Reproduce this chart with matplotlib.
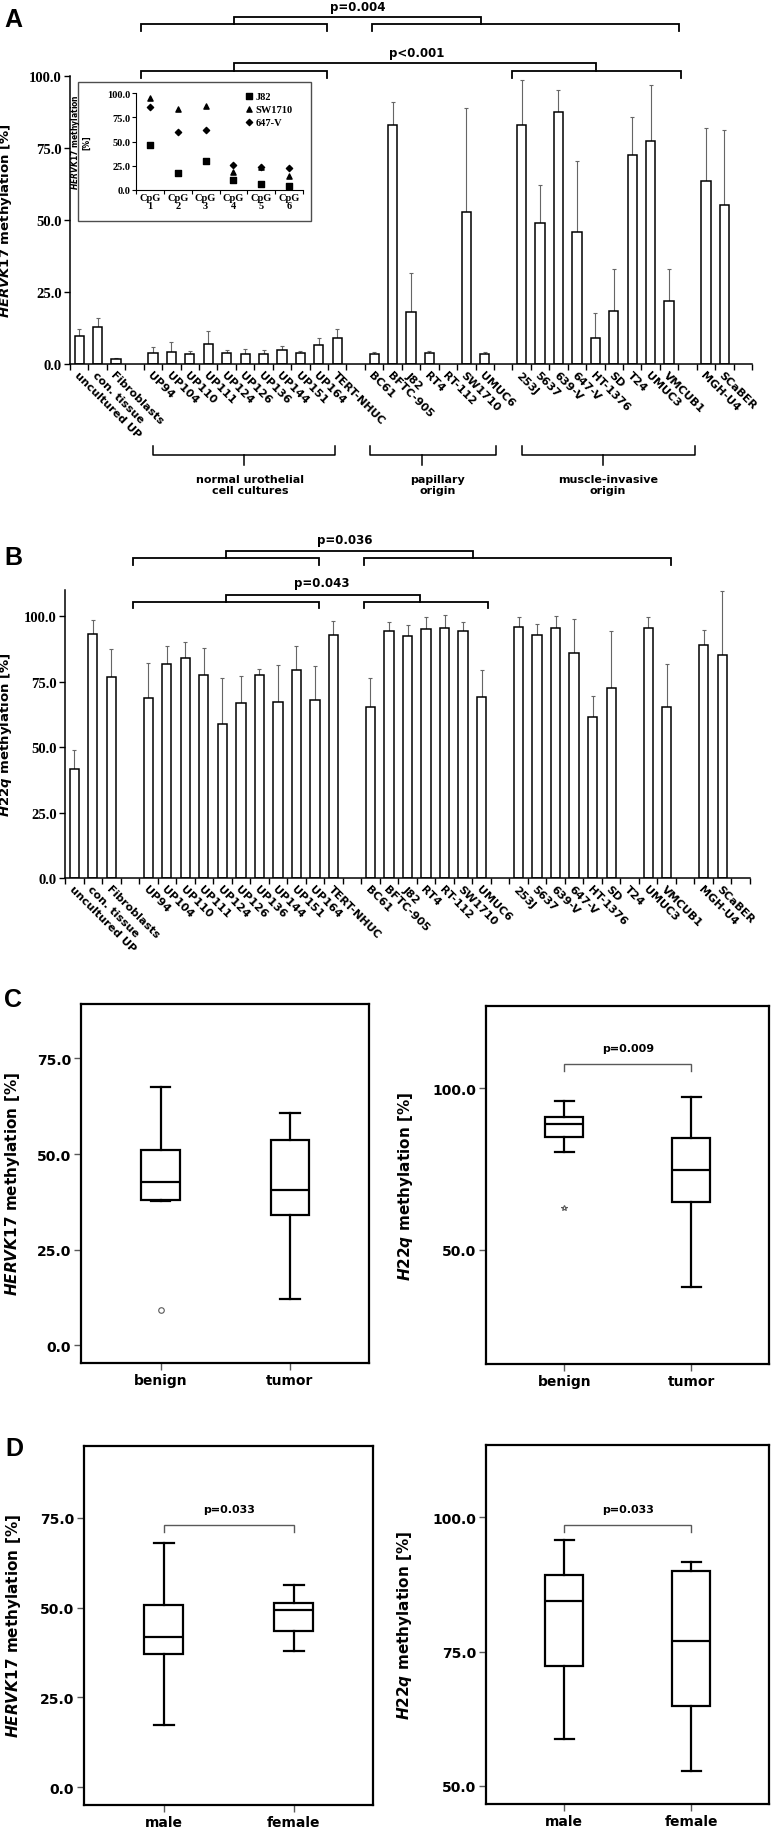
import matplotlib
matplotlib.use("Agg")
import matplotlib.pyplot as plt
from matplotlib.patches import Rectangle
import numpy as np

plt.rcParams['font.family'] = 'DejaVu Sans'
plt.rcParams['font.weight'] = 'bold'
plt.rcParams['mathtext.fontset'] = 'custom'
plt.rcParams['mathtext.it'] = 'DejaVu Sans:italic:bold'
plt.rcParams['mathtext.rm'] = 'DejaVu Sans:bold'
plt.rcParams['mathtext.bf'] = 'DejaVu Sans:bold'

W, H = 784, 1833

# ---- data: panel A / B (cell lines) ----
names = ["uncultured UP", "con. tissue", "Fibroblasts",
         "UP94", "UP104", "UP110", "UP111", "UP124", "UP126", "UP136", "UP144", "UP151", "UP164", "TERT-NHUC",
         "BC61", "BFTC-905", "J82", "RT4", "RT-112", "SW1710", "UMUC6",
         "253J", "5637", "639-V", "647-V", "HT-1376", "SD", "T24", "UMUC3", "VMCUB1",
         "MGH-U4", "SCaBER"]
group_sizes = [3, 11, 7, 9, 2]
nan = np.nan
hervk17_mean = [9.6, 12.8, 1.6, 3.7, 4.3, 3.5, 6.9, 3.9, 3.5, 3.5, 4.8, 3.7, 6.5, 8.9,
                3.5, 83.0, 18.0, 3.7, nan, 52.8, 3.5,
                83.0, 48.8, 87.6, 46.0, 9.2, 18.4, 72.4, 77.5, 22.0, 63.5, 55.3]
hervk17_sd = [2.5, 3.1, 0.6, 2.1, 3.4, 1.1, 4.5, 1.1, 1.7, 1.5, 1.4, 0.9, 2.6, 3.2,
              0.8, 8.0, 13.7, 0.9, nan, 36.2, 0.8,
              15.5, 13.2, 7.4, 24.5, 8.4, 14.6, 13.2, 19.4, 11.0, 18.5, 26.0]
h22q_mean = [41.7, 93.1, 76.9, 68.6, 81.8, 84.2, 77.5, 59.0, 66.7, 77.5, 67.4, 79.6, 68.0, 93.0,
             65.3, 94.3, 92.3, 95.1, 95.6, 94.2, 69.3,
             95.8, 93.0, 95.4, 86.1, 61.5, 72.6, nan, 95.4, 65.5, 89.0, 85.2]
h22q_sd = [7.0, 5.6, 10.7, 13.4, 6.8, 6.0, 10.5, 17.3, 10.3, 2.5, 13.9, 9.0, 12.8, 5.1,
           11.0, 3.6, 4.3, 4.4, 5.0, 3.4, 10.0,
           3.7, 4.0, 4.6, 12.9, 8.2, 21.7, nan, 4.1, 16.3, 5.7, 24.3]

# inset: single CpG sites
cpg_labels = ["CpG\n1", "CpG\n2", "CpG\n3", "CpG\n4", "CpG\n5", "CpG\n6"]
j82 = [46.4, 17.7, 30.0, 10.2, 6.1, 4.4]
sw1710 = [94.9, 83.3, 86.7, 18.4, 23.2, 14.0]
v647 = [85.7, 60.1, 61.4, 25.9, 23.5, 22.2]

# ---- data: panel C / D (box plots: whislo, q1, med, q3, whishi) ----
c_groups = ["benign", "tumor"]
c_hervk17 = [[37.6, 38.1, 42.6, 51.0, 67.4], [12.1, 34.2, 40.5, 53.7, 60.6]]
c_hervk17_out = [[9.3], []]
c_h22q = [[80.3, 84.8, 88.9, 91.1, 96.1], [38.4, 64.8, 74.7, 84.5, 97.4]]
c_h22q_out = [[62.9], []]
d_groups = ["male", "female"]
d_hervk17 = [[17.3, 37.1, 41.9, 50.8, 67.9], [37.8, 43.6, 49.3, 51.4, 56.4]]
d_h22q = [[58.8, 72.4, 84.5, 89.3, 95.8], [52.7, 64.9, 76.9, 90.1, 91.7]]


def slot_positions(sizes):
    out = []
    x = 0
    for n in sizes:
        out.extend(range(x, x + n))
        x += n + 1
    return np.array(out), x - 1


pos, n_slots = slot_positions(group_sizes)

fig = plt.figure(figsize=(W / 100, H / 100), dpi=100)


def box(l, t, r, b):
    return [l / W, 1 - b / H, (r - l) / W, (b - t) / H]


def bracket(ax, x0, x1, y, drop, color='black', lw=1.3):
    ax.plot([x0, x0, x1, x1], [y - drop, y, y, y - drop], color=color, lw=lw,
            clip_on=False, solid_joinstyle='miter')


def bar_panel(ax, mean, sd, top, ylabel):
    ax.bar(pos, mean, width=0.5, color='white', edgecolor='black', linewidth=1.1, zorder=2)
    ax.errorbar(pos, mean, yerr=[np.zeros(len(sd)), sd], fmt='none', ecolor='0.4',
                elinewidth=0.8, capsize=1.5, capthick=0.8, zorder=1)
    ax.set_xlim(-0.5, n_slots + 0.5)
    ax.set_ylim(0, top)
    for s in ['top', 'right']:
        ax.spines[s].set_visible(False)
    for s in ['left', 'bottom']:
        ax.spines[s].set_linewidth(1.1)
    ax.set_yticks([0, 25, 50, 75, 100])
    ax.set_yticklabels(["%.1f" % v for v in [0, 25, 50, 75, 100]],
                       fontfamily='Liberation Serif', fontweight='bold', fontsize=10.5)
    ax.set_xticks(np.arange(-0.5, n_slots + 1))
    ax.set_xticklabels([])
    ax.set_xticks(pos, minor=True)
    ax.set_xticklabels(names, minor=True, rotation=-45, ha='left', va='top',
                       rotation_mode='anchor', fontsize=8, fontweight='bold')
    ax.tick_params(axis='x', which='major', length=4, width=1, direction='out')
    ax.tick_params(axis='x', which='minor', length=0, pad=4)
    ax.tick_params(axis='y', length=4, width=1, direction='out', pad=2)
    ax.set_ylabel(ylabel, fontsize=9.5, fontweight='bold')


# ---- panel A ----
axA = fig.add_axes(box(70, 77, 752, 365))
bar_panel(axA, hervk17_mean, hervk17_sd, 100, r"$\mathit{HERVK17}$ methylation [%]")
axA.yaxis.set_label_coords(-0.082, 0.5)
bracket(axA, 3.36, 13.44, 118.1, 2.5)
bracket(axA, 15.9, 32.55, 118.1, 2.5)
bracket(axA, 8.4, 21.8, 120.6, 2.5)
axA.text(15.1, 124.3, "p=0.004", ha='center', va='center', fontsize=8.5, fontweight='bold')
bracket(axA, 3.36, 13.44, 101.7, 2.4)
bracket(axA, 23.47, 32.65, 101.7, 2.4)
bracket(axA, 8.4, 28.06, 104.5, 2.8)
axA.text(18.3, 108.3, "p<0.001", ha='center', va='center', fontsize=8.5, fontweight='bold')

# group brackets under the cell-line labels
groups = [(3.99, 13.89, 8.92, 9.27, "normal urothelial\ncell cultures"),
          (15.79, 22.6, 18.6, 19.43, "papillary\norigin"),
          (24.0, 33.42, 28.4, 28.67, "muscle-invasive\norigin")]
for g0, g1, gc, tx, lab in groups:
    axA.plot([g0, g0, g1, g1], [-28.4, -31.6, -31.6, -28.4], color='black', lw=1.1, clip_on=False)
    axA.plot([gc, gc], [-31.6, -35.0], color='black', lw=1.1, clip_on=False)
    axA.text(tx, -41.8, lab, ha='center', va='center', fontsize=8, fontweight='bold',
             linespacing=1.15)

# inset of A
fig.patches.append(Rectangle((78 / W, 1 - 222 / H), 233 / W, 139 / H, transform=fig.transFigure,
                             facecolor='white', edgecolor='0.3', linewidth=1.0, zorder=1))
axIn = fig.add_axes(box(136, 94, 303, 191))
axIn.set_zorder(2)
axIn.patch.set_alpha(0)
xi = np.arange(len(cpg_labels))
axIn.scatter(xi, j82, marker='s', s=14, color='black', label='J82')
axIn.scatter(xi, sw1710, marker='^', s=14, color='black', label='SW1710')
axIn.scatter(xi, v647, marker='D', s=10, color='black', label='647-V')
axIn.set_xlim(-0.5, 5.5)
axIn.set_ylim(0, 100)
for s in ['top', 'right']:
    axIn.spines[s].set_visible(False)
axIn.set_yticks([0, 25, 50, 75, 100])
axIn.set_yticklabels(["%.1f" % v for v in [0, 25, 50, 75, 100]],
                     fontfamily='Liberation Serif', fontweight='bold', fontsize=7.5)
axIn.set_xticks(np.arange(-0.5, 6))
axIn.set_xticklabels([])
axIn.set_xticks(xi, minor=True)
axIn.set_xticklabels(cpg_labels, minor=True, fontfamily='Liberation Serif',
                     fontweight='bold', fontsize=7.5, linespacing=0.9)
axIn.tick_params(axis='x', which='major', length=3, direction='out')
axIn.tick_params(axis='x', which='minor', length=0, pad=2)
axIn.tick_params(axis='y', length=3, direction='out', pad=1)
axIn.set_ylabel(r"$\mathit{HERVK17}$ methylation" + "\n[%]", fontsize=5.5, fontweight='bold',
                linespacing=1.0)
axIn.yaxis.set_label_coords(-0.27, 0.5)
leg = axIn.legend(loc='upper left', bbox_to_anchor=(0.62, 1.06), frameon=False,
                  handletextpad=0.1, borderaxespad=0, labelspacing=0.35, handlelength=1.0,
                  prop={'family': 'Liberation Serif', 'weight': 'bold', 'size': 7.5})

# ---- panel B ----
axB = fig.add_axes(box(65, 591, 750, 879))
bar_panel(axB, h22q_mean, h22q_sd, 110, r"$\mathit{H22q}$ methylation [%]")
axB.yaxis.set_label_coords(-0.074, 0.5)
bracket(axB, 3.18, 13.24, 122.1, 2.5)
bracket(axB, 15.66, 32.21, 122.1, 2.5)
bracket(axB, 8.2, 21.52, 124.9, 2.8)
axB.text(14.63, 129.2, "p=0.036", ha='center', va='center', fontsize=8.5, fontweight='bold')
bracket(axB, 3.18, 13.24, 105.6, 2.4)
bracket(axB, 15.66, 22.36, 105.6, 2.4)
bracket(axB, 8.2, 18.7, 108.1, 2.5)
axB.text(13.37, 112.7, "p=0.043", ha='center', va='center', fontsize=8.5, fontweight='bold')


# ---- panels C / D ----
def box_panel(ax, groups_, stats, outliers, ylim, yticks, ylabel, flier_marker='o',
              pval=None):
    bx = []
    for lab, st, out in zip(groups_, stats, outliers):
        bx.append(dict(label=lab, whislo=st[0], q1=st[1], med=st[2], q3=st[3],
                       whishi=st[4], fliers=out))
    ax.bxp(bx, positions=[1, 2], widths=0.3, patch_artist=True,
           boxprops=dict(facecolor='white', edgecolor='black', linewidth=1.6),
           medianprops=dict(color='black', linewidth=1.6),
           whiskerprops=dict(color='black', linewidth=1.6),
           capprops=dict(color='black', linewidth=1.6),
           flierprops=dict(marker=flier_marker, markersize=4, markerfacecolor='none',
                           markeredgecolor='0.35', markeredgewidth=0.8))
    ax.set_xlim(0.385, 2.61)
    ax.set_ylim(*ylim)
    for s in ax.spines.values():
        s.set_linewidth(1.6)
    ax.set_yticks(yticks)
    ax.set_yticklabels(["%.1f" % v for v in yticks], fontsize=10, fontweight='bold')
    ax.set_xticks([1, 2])
    ax.set_xticklabels(groups_, fontsize=10, fontweight='bold')
    ax.tick_params(axis='both', length=5, width=1, color='0.35', direction='out', pad=2)
    ax.set_ylabel(ylabel, fontsize=11, fontweight='bold')
    if pval is not None:
        y, drop, ty, txt = pval
        bracket(ax, 1, 2, y, drop, color='0.35', lw=1.0)
        ax.text(1.5, ty, txt, ha='center', va='center', fontsize=8, fontweight='bold')


axC1 = fig.add_axes(box(81, 1005, 369, 1364))
box_panel(axC1, c_groups, c_hervk17, c_hervk17_out, (-4.6, 89.2), [0, 25, 50, 75],
          r"$\mathit{HERVK17}$ methylation [%]")
axC1.yaxis.set_label_coords(-0.205, 0.5)

axC2 = fig.add_axes(box(486, 1007, 769, 1365))
box_panel(axC2, c_groups, c_h22q, c_h22q_out, (14.7, 125.4), [50, 100],
          r"$\mathit{H22q}$ methylation [%]", flier_marker='*',
          pval=(107.4, 2.1, 112.4, "p=0.009"))
axC2.yaxis.set_label_coords(-0.251, 0.5)

axD1 = fig.add_axes(box(84, 1447, 373, 1806))
box_panel(axD1, d_groups, d_hervk17, [[], []], (-5.0, 95.0), [0, 25, 50, 75],
          r"$\mathit{HERVK17}$ methylation [%]", pval=(73.0, 1.9, 77.4, "p=0.033"))
axD1.yaxis.set_label_coords(-0.211, 0.5)

axD2 = fig.add_axes(box(486, 1446, 769, 1805))
box_panel(axD2, d_groups, d_h22q, [[], []], (46.6, 113.5), [50, 75, 100],
          r"$\mathit{H22q}$ methylation [%]", pval=(98.6, 1.3, 101.6, "p=0.033"))
axD2.yaxis.set_label_coords(-0.254, 0.5)

# panel letters
for letter, (x, y) in zip("ABCD", [(13, 20), (13, 558), (13, 1000), (14, 1449)]):
    fig.text(x / W, 1 - y / H, letter, fontsize=18, fontweight='bold',
             fontfamily='Liberation Sans', ha='center', va='center')

fig.savefig("out.png", dpi=100)
